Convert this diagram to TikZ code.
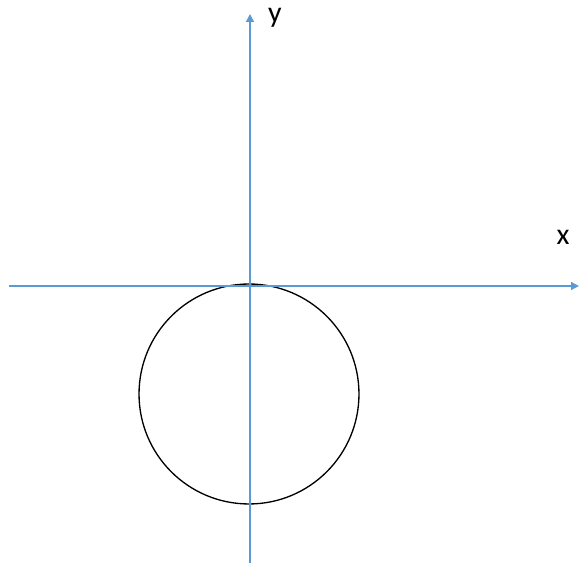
\documentclass[tikz,border=0pt]{standalone}
\usepackage{fontspec}
\setmainfont{Carlito}
\usetikzlibrary{arrows.meta}
\tikzset{
  axis/.style  = {draw={rgb,255:red,91;green,155;blue,213}, line width=0.75pt,
                  -{Triangle[length=4.5pt, width=4.5pt]}},
  ring/.style  = {draw=black, line width=0.75pt, circle, minimum size=4.4cm,
                  inner sep=0pt},
  lbl/.style   = {anchor=base, inner sep=0pt, font=\fontsize{17}{20}\selectfont}
}
\begin{document}
\begin{tikzpicture}[x=0.02cm, y=-0.02cm]
\useasboundingbox (0,0) rectangle (579,563);
\coordinate (xl) at (9,286);
\coordinate (xr) at (579,286);
\coordinate (yb) at (250,563);
\coordinate (yt) at (250,14);
\node[ring] at (249,394) (circ) {};
\node[lbl] at (563,245) (xlab) {x};
\node[lbl] at (275,23)  (ylab) {y};

\draw[axis] (xl) -- (xr);
\draw[axis] (yb) -- (yt);
\end{tikzpicture}
\end{document}
